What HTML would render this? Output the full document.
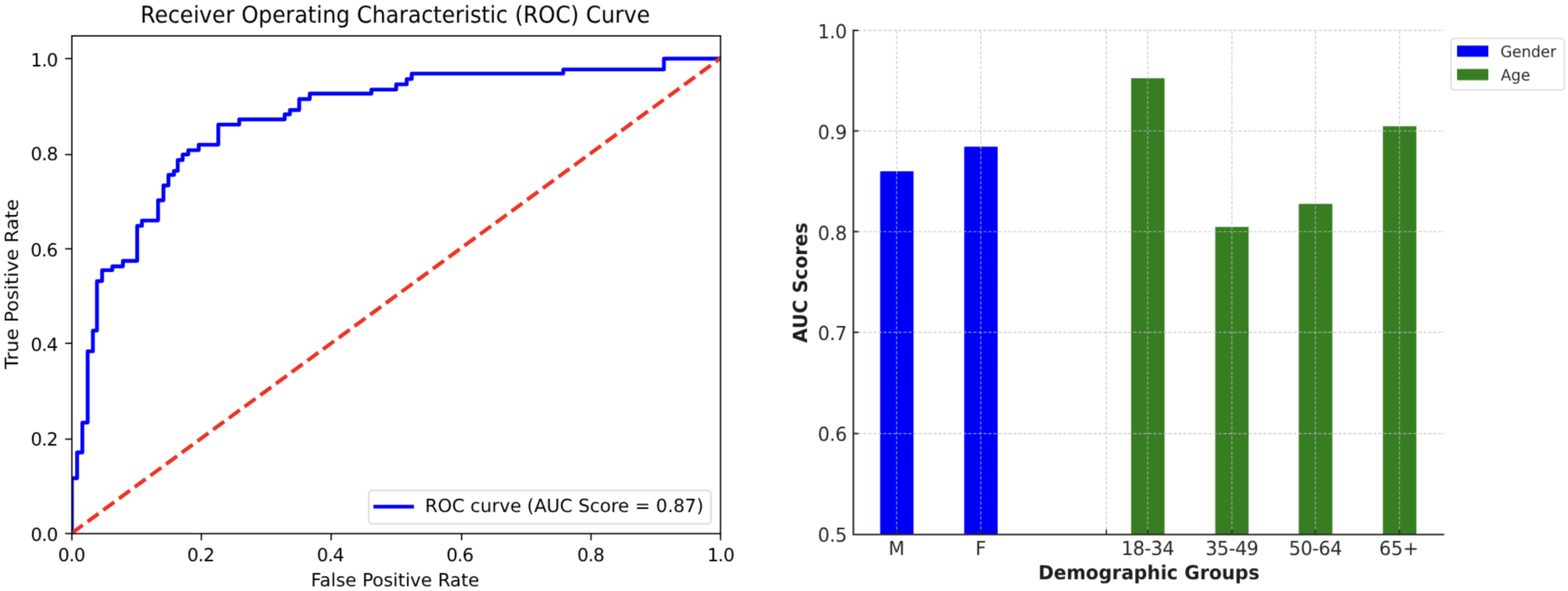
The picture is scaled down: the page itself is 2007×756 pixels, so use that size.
<!DOCTYPE html>
<html lang="en">
<head>
<meta charset="utf-8">
<title>ROC Curve and AUC Scores by Demographic Group</title>
<style>
html,body{margin:0;padding:0;background:#fff;}
body{width:2007px;height:756px;overflow:hidden;font-family:"DejaVu Sans","Liberation Sans",sans-serif;}
svg{display:block;}
text{text-rendering:geometricPrecision;}
</style>
</head>
<body>
<svg width="2007" height="756" viewBox="0 0 2007 756" font-family="'DejaVu Sans', 'Liberation Sans', sans-serif">
<defs><filter id="soft" filterUnits="userSpaceOnUse" x="0" y="0" width="2007" height="756" color-interpolation-filters="sRGB"><feConvolveMatrix order="3" kernelMatrix="0.0289 0.1122 0.0289 0.1122 0.4356 0.1122 0.0289 0.1122 0.0289" divisor="1" edgeMode="duplicate" preserveAlpha="true"/></filter></defs>
<g filter="url(#soft)">
<rect width="2007" height="756" fill="#fff"/>
<g id="roc">
<clipPath id="lc"><rect x="92.0" y="45.9" width="830.3" height="636.7"/></clipPath>
<g clip-path="url(#lc)">
<polyline points="92.0,682.6 92.0,611.7 98.7,611.7 98.7,578.7 105.4,578.7 105.4,540.6 112.2,540.6 112.2,449.4 118.9,449.4 118.9,422.9 124.1,422.9 124.1,359.6 130.7,359.6 130.7,345.6 143.8,345.6 143.8,340.8 157.3,340.8 157.3,333.7 175.6,333.7 175.6,288.9 181.7,288.9 181.7,282.1 202.3,282.1 202.3,256.2 209.2,256.2 209.2,237.3 215.6,237.3 215.6,223.8 222.7,223.8 222.7,218.6 227.5,218.6 227.5,204.8 233.8,204.8 233.8,197.6 241.0,197.6 241.0,192.1 254.4,192.1 254.4,185.1 279.4,185.1 279.4,159.4 306.2,159.4 306.2,152.8 364.4,152.8 364.4,146.3 371.1,146.3 371.1,140.8 383.0,140.8 383.0,126.8 396.5,126.8 396.5,119.8 475.4,119.8 475.4,114.6 507.1,114.6 507.1,107.9 520.6,107.9 520.6,101.1 527.0,101.1 527.0,94.1 721.0,94.1 721.0,88.9 849.8,88.9 849.8,75.0 922.3,75.0" fill="none" stroke="#0000F5" stroke-width="4.9" stroke-linejoin="round" stroke-linecap="square"/>
<line x1="92.0" y1="681.9" x2="922.3" y2="74.4" stroke="#EA3323" stroke-width="4.9" stroke-dasharray="17.4 7.5"/>
</g>
<rect x="92.0" y="45.9" width="830.3" height="636.7" fill="none" stroke="#000000" stroke-width="1.7"/>
<line x1="92.0" y1="682.6" x2="92.0" y2="691.2" stroke="#000000" stroke-width="1.7"/>
<line x1="92.0" y1="682.5" x2="83.4" y2="682.5" stroke="#000000" stroke-width="1.7"/>
<text transform="translate(91.45,717.60)" font-size="23.2" text-anchor="middle" fill="#000000" letter-spacing="-0.8">0.0</text>
<text transform="translate(73.80,691.50)" font-size="23.2" text-anchor="end" fill="#000000" letter-spacing="-0.8">0.0</text>
<line x1="257.7" y1="682.6" x2="257.7" y2="691.2" stroke="#000000" stroke-width="1.7"/>
<line x1="92.0" y1="561.7" x2="83.4" y2="561.7" stroke="#000000" stroke-width="1.7"/>
<text transform="translate(256.85,717.60)" font-size="23.2" text-anchor="middle" fill="#000000" letter-spacing="-0.8">0.2</text>
<text transform="translate(73.70,569.90)" font-size="23.2" text-anchor="end" fill="#000000" letter-spacing="-0.8">0.2</text>
<line x1="423.8" y1="682.6" x2="423.8" y2="691.2" stroke="#000000" stroke-width="1.7"/>
<line x1="92.0" y1="439.2" x2="83.4" y2="439.2" stroke="#000000" stroke-width="1.7"/>
<text transform="translate(422.70,717.60)" font-size="23.2" text-anchor="middle" fill="#000000" letter-spacing="-0.8">0.4</text>
<text transform="translate(73.70,448.80)" font-size="23.2" text-anchor="end" fill="#000000" letter-spacing="-0.8">0.4</text>
<line x1="590.8" y1="682.6" x2="590.8" y2="691.2" stroke="#000000" stroke-width="1.7"/>
<line x1="92.0" y1="318.3" x2="83.4" y2="318.3" stroke="#000000" stroke-width="1.7"/>
<text transform="translate(588.50,717.60)" font-size="23.2" text-anchor="middle" fill="#000000" letter-spacing="-0.8">0.6</text>
<text transform="translate(73.50,328.20)" font-size="23.2" text-anchor="end" fill="#000000" letter-spacing="-0.8">0.6</text>
<line x1="756.5" y1="682.6" x2="756.5" y2="691.2" stroke="#000000" stroke-width="1.7"/>
<line x1="92.0" y1="197.7" x2="83.4" y2="197.7" stroke="#000000" stroke-width="1.7"/>
<text transform="translate(755.95,717.60)" font-size="23.2" text-anchor="middle" fill="#000000" letter-spacing="-0.8">0.8</text>
<text transform="translate(73.70,205.00)" font-size="23.2" text-anchor="end" fill="#000000" letter-spacing="-0.8">0.8</text>
<line x1="922.3" y1="682.6" x2="922.3" y2="691.2" stroke="#000000" stroke-width="1.7"/>
<line x1="92.0" y1="74.9" x2="83.4" y2="74.9" stroke="#000000" stroke-width="1.7"/>
<text transform="translate(922.40,717.60)" font-size="23.2" text-anchor="middle" fill="#000000" letter-spacing="-0.8">1.0</text>
<text transform="translate(73.80,84.90)" font-size="23.2" text-anchor="end" fill="#000000" letter-spacing="-0.8">1.0</text>
<text transform="translate(505.85,750.20)" font-size="23.2" text-anchor="middle" fill="#000000">False Positive Rate</text>
<text transform="translate(23.00,363.50) scale(1,1.052) rotate(-90)" font-size="23.2" text-anchor="middle" fill="#000000">True Positive Rate</text>
<text transform="translate(505.95,29.10) scale(1,1.07)" font-size="27.8" text-anchor="middle" fill="#000000">Receiver Operating Characteristic (ROC) Curve</text>
<rect x="472" y="627.3" width="438" height="42.9" rx="4.6" fill="#fff" fill-opacity="0.8" stroke="#cccccc" stroke-opacity="0.8" stroke-width="1.7"/>
<line x1="480.4" y1="648.1" x2="527.4" y2="648.1" stroke="#0000F5" stroke-width="4.9" stroke-linecap="square"/>
<text transform="translate(544.00,655.40)" font-size="23.25" text-anchor="start" fill="#000000">ROC curve (AUC Score = 0.87)</text>
</g>
<g id="bars">
<rect x="1126.6" y="219.1" width="42.7" height="464.7" fill="#0000F5"/>
<rect x="1234.2" y="187.6" width="42.8" height="496.2" fill="#0000F5"/>
<rect x="1447.8" y="100.1" width="42.8" height="583.7" fill="#377D22"/>
<rect x="1555.5" y="290.3" width="42.7" height="393.5" fill="#377D22"/>
<rect x="1662.4" y="260.8" width="43.0" height="423.0" fill="#377D22"/>
<rect x="1770.1" y="161.5" width="42.8" height="522.3" fill="#377D22"/>
<line x1="1147.7" y1="683.8" x2="1147.7" y2="38.9" stroke="#bcbcbc" stroke-opacity="0.9" stroke-width="1.1" stroke-dasharray="4.1 2.3"/>
<line x1="1255.4" y1="683.8" x2="1255.4" y2="38.9" stroke="#bcbcbc" stroke-opacity="0.9" stroke-width="1.1" stroke-dasharray="4.1 2.3"/>
<line x1="1416.1" y1="683.8" x2="1416.1" y2="38.9" stroke="#bcbcbc" stroke-opacity="0.9" stroke-width="1.1" stroke-dasharray="4.1 2.3"/>
<line x1="1469.0" y1="683.8" x2="1469.0" y2="38.9" stroke="#bcbcbc" stroke-opacity="0.9" stroke-width="1.1" stroke-dasharray="4.1 2.3"/>
<line x1="1576.8" y1="683.8" x2="1576.8" y2="38.9" stroke="#bcbcbc" stroke-opacity="0.9" stroke-width="1.1" stroke-dasharray="4.1 2.3"/>
<line x1="1683.7" y1="683.8" x2="1683.7" y2="38.9" stroke="#bcbcbc" stroke-opacity="0.9" stroke-width="1.1" stroke-dasharray="4.1 2.3"/>
<line x1="1791.3" y1="683.8" x2="1791.3" y2="38.9" stroke="#bcbcbc" stroke-opacity="0.9" stroke-width="1.1" stroke-dasharray="4.1 2.3"/>
<line x1="1092.3" y1="683.8" x2="1848.6" y2="683.8" stroke="#bcbcbc" stroke-opacity="0.9" stroke-width="1.1" stroke-dasharray="4.1 2.3"/>
<line x1="1092.3" y1="554.6" x2="1848.6" y2="554.6" stroke="#bcbcbc" stroke-opacity="0.9" stroke-width="1.1" stroke-dasharray="4.1 2.3"/>
<line x1="1092.3" y1="425.1" x2="1848.6" y2="425.1" stroke="#bcbcbc" stroke-opacity="0.9" stroke-width="1.1" stroke-dasharray="4.1 2.3"/>
<line x1="1092.3" y1="296.3" x2="1848.6" y2="296.3" stroke="#bcbcbc" stroke-opacity="0.9" stroke-width="1.1" stroke-dasharray="4.1 2.3"/>
<line x1="1092.3" y1="167.5" x2="1848.6" y2="167.5" stroke="#bcbcbc" stroke-opacity="0.9" stroke-width="1.1" stroke-dasharray="4.1 2.3"/>
<line x1="1092.3" y1="38.9" x2="1848.6" y2="38.9" stroke="#bcbcbc" stroke-opacity="0.9" stroke-width="1.1" stroke-dasharray="4.1 2.3"/>
<path d="M1092.3,38.9 V683.8 H1847.6" fill="none" stroke="#262626" stroke-width="2.1" stroke-linecap="square"/>
<line x1="1147.7" y1="683.8" x2="1147.7" y2="677.3" stroke="#262626" stroke-width="1.6"/>
<text transform="translate(1147.70,709.70) scale(1,1.035)" font-size="24" text-anchor="middle" fill="#262626">M</text>
<line x1="1255.4" y1="683.8" x2="1255.4" y2="677.3" stroke="#262626" stroke-width="1.6"/>
<text transform="translate(1255.40,709.70) scale(1,1.035)" font-size="24" text-anchor="middle" fill="#262626">F</text>
<line x1="1416.1" y1="683.8" x2="1416.1" y2="677.3" stroke="#262626" stroke-width="1.6"/>
<line x1="1469.0" y1="683.8" x2="1469.0" y2="677.3" stroke="#262626" stroke-width="1.6"/>
<text transform="translate(1469.00,709.70) scale(1,1.035)" font-size="24" text-anchor="middle" fill="#262626" letter-spacing="-0.4">18-34</text>
<line x1="1576.8" y1="683.8" x2="1576.8" y2="677.3" stroke="#262626" stroke-width="1.6"/>
<text transform="translate(1576.80,709.70) scale(1,1.035)" font-size="24" text-anchor="middle" fill="#262626" letter-spacing="-0.4">35-49</text>
<line x1="1683.7" y1="683.8" x2="1683.7" y2="677.3" stroke="#262626" stroke-width="1.6"/>
<text transform="translate(1683.70,709.70) scale(1,1.035)" font-size="24" text-anchor="middle" fill="#262626" letter-spacing="-0.4">50-64</text>
<line x1="1791.3" y1="683.8" x2="1791.3" y2="677.3" stroke="#262626" stroke-width="1.6"/>
<text transform="translate(1790.60,709.70) scale(1,1.035)" font-size="24" text-anchor="middle" fill="#262626">65+</text>
<text transform="translate(1083.75,693.45) scale(1,1.035)" font-size="24" text-anchor="end" fill="#262626" letter-spacing="-0.4">0.5</text>
<line x1="1092.3" y1="554.6" x2="1098.8" y2="554.6" stroke="#262626" stroke-width="2.0"/>
<text transform="translate(1083.75,564.45) scale(1,1.035)" font-size="24" text-anchor="end" fill="#262626" letter-spacing="-0.4">0.6</text>
<line x1="1092.3" y1="425.1" x2="1098.8" y2="425.1" stroke="#262626" stroke-width="2.0"/>
<text transform="translate(1083.75,435.45) scale(1,1.035)" font-size="24" text-anchor="end" fill="#262626" letter-spacing="-0.4">0.7</text>
<line x1="1092.3" y1="296.3" x2="1098.8" y2="296.3" stroke="#262626" stroke-width="2.0"/>
<text transform="translate(1083.75,306.75) scale(1,1.035)" font-size="24" text-anchor="end" fill="#262626" letter-spacing="-0.4">0.8</text>
<line x1="1092.3" y1="167.5" x2="1098.8" y2="167.5" stroke="#262626" stroke-width="2.0"/>
<text transform="translate(1083.75,177.95) scale(1,1.035)" font-size="24" text-anchor="end" fill="#262626" letter-spacing="-0.4">0.9</text>
<line x1="1092.3" y1="38.9" x2="1098.8" y2="38.9" stroke="#262626" stroke-width="2.0"/>
<text transform="translate(1083.75,48.55) scale(1,1.035)" font-size="24" text-anchor="end" fill="#262626" letter-spacing="-0.4">1.0</text>
<text transform="translate(1470.55,740.50) scale(1,1.04)" font-size="23.9" text-anchor="middle" fill="#1c1c1c" font-weight="bold">Demographic Groups</text>
<text transform="translate(1033.00,361.55) scale(1.04,1) rotate(-90)" font-size="24" text-anchor="middle" fill="#1c1c1c" font-weight="bold">AUC Scores</text>
<rect x="1857.4" y="49.2" width="145.0" height="65.8" rx="4" fill="#fff" fill-opacity="0.8" stroke="#cccccc" stroke-opacity="0.8" stroke-width="1.6"/>
<rect x="1865" y="58.3" width="40" height="14.3" fill="#0000F5"/>
<rect x="1865" y="88.3" width="40" height="14.3" fill="#377D22"/>
<text transform="translate(1920.40,72.60) scale(0.972,1)" font-size="20" text-anchor="start" fill="#262626">Gender</text>
<text transform="translate(1921.00,102.90) scale(0.972,1)" font-size="20" text-anchor="start" fill="#262626">Age</text>
</g>
</g>
</svg>
</body>
</html>
